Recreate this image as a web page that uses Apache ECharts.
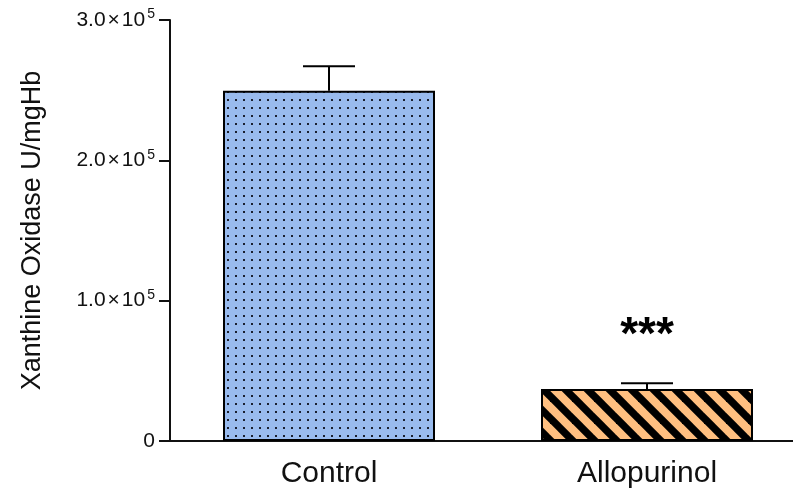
<!DOCTYPE html>
<html><head><meta charset="utf-8">
<script src="https://cdn.jsdelivr.net/npm/echarts@6/dist/echarts.min.js"></script>
<style>html,body{margin:0;padding:0;background:#fff}#c{width:793px;height:492px}</style>
</head><body><div id="c"></div>
<script>
var categories = ['Control', 'Allopurinol'];
var means = [249500, 37000];
var errors = [17500, 4200];
var significance = ['', '***'];
var yTicks = [0, 100000, 200000, 300000];

function dotPattern() {
  var c = document.createElement('canvas'); c.width = 8; c.height = 8;
  var g = c.getContext('2d');
  g.fillStyle = '#99BBEE'; g.fillRect(0, 0, 8, 8);
  g.fillStyle = '#1a2030'; g.fillRect(3, 3, 2, 2);
  return c;
}
function stripePattern() {
  var s = 22;
  var c = document.createElement('canvas'); c.width = s; c.height = s;
  var g = c.getContext('2d');
  g.fillStyle = '#FFBF80'; g.fillRect(0, 0, s, s);
  g.strokeStyle = '#000'; g.lineWidth = 7.5;
  for (var k = -1; k <= 1; k++) {
    g.beginPath(); g.moveTo(k * s - 3, -3); g.lineTo(k * s + s + 3, s + 3); g.stroke();
  }
  return c;
}
var fills = [{image: dotPattern(), repeat: 'repeat'}, {image: stripePattern(), repeat: 'repeat'}];

var chart = echarts.init(document.getElementById('c'), null, {renderer: 'canvas'});
var font = 'Liberation Sans, Arial, sans-serif';
chart.setOption({
  animation: false,
  grid: {left: 170, top: 20, right: -13, bottom: 51, containLabel: false, outerBoundsMode: 'none'},
  xAxis: {
    type: 'category', data: categories,
    axisLine: {lineStyle: {color: '#111', width: 2}},
    axisTick: {alignWithLabel: true, length: 12, lineStyle: {color: '#111', width: 2}},
    axisLabel: {color: '#111', fontSize: 30, fontFamily: font, margin: 18}
  },
  yAxis: {
    type: 'value', min: 0, max: 300000, interval: 100000,
    name: 'Xanthine Oxidase U/mgHb', nameLocation: 'middle', nameGap: 124, nameRotate: 90,
    nameTextStyle: {color: '#111', fontSize: 27, fontFamily: font},
    splitLine: {show: false},
    axisLine: {show: true, lineStyle: {color: '#111', width: 2}},
    axisTick: {show: true, length: 11, lineStyle: {color: '#111', width: 2}},
    axisLabel: {
      margin: 15, fontFamily: font,
      formatter: function (v) {
        if (v === 0) return '{m|0}';
        return '{m|' + (v / 100000).toFixed(1) + '}{x|×}{m|10}{s|5}';
      },
      rich: {
        m: {fontSize: 21, color: '#111', fontFamily: font},
        x: {fontSize: 21, color: '#111', fontFamily: font, padding: [0, 2, 0, 2]},
        s: {fontSize: 14, color: '#111', fontFamily: font, verticalAlign: 'bottom', padding: [0, 0, 11, 2]}
      }
    }
  },
  series: [
    {
      type: 'bar', barWidth: 212,
      data: means.map(function (v, i) { return {value: v, itemStyle: {color: fills[i]}}; }),
      itemStyle: {borderColor: '#000', borderWidth: 2}
    },
    {
      type: 'custom', z: 5,
      data: means.map(function (v, i) { return [i, v, errors[i]]; }),
      renderItem: function (params, api) {
        var i = api.value(0), m = api.value(1), e = api.value(2);
        var p0 = api.coord([i, m]), p1 = api.coord([i, m + e]);
        var hw = 26;
        var children = [
          {type: 'line', shape: {x1: p0[0], y1: p0[1], x2: p1[0], y2: p1[1]}, style: {stroke: '#000', lineWidth: 2}},
          {type: 'line', shape: {x1: p1[0] - hw, y1: p1[1], x2: p1[0] + hw, y2: p1[1]}, style: {stroke: '#000', lineWidth: 2}}
        ];
        if (significance[i]) {
          children.push({type: 'text', style: {text: significance[i], x: p1[0], y: p1[1] - 47, align: 'center', verticalAlign: 'middle', fontSize: 46, fontWeight: 'bold', fontFamily: font, fill: '#000'}});
        }
        return {type: 'group', children: children};
      }
    }
  ]
});
</script></body></html>
